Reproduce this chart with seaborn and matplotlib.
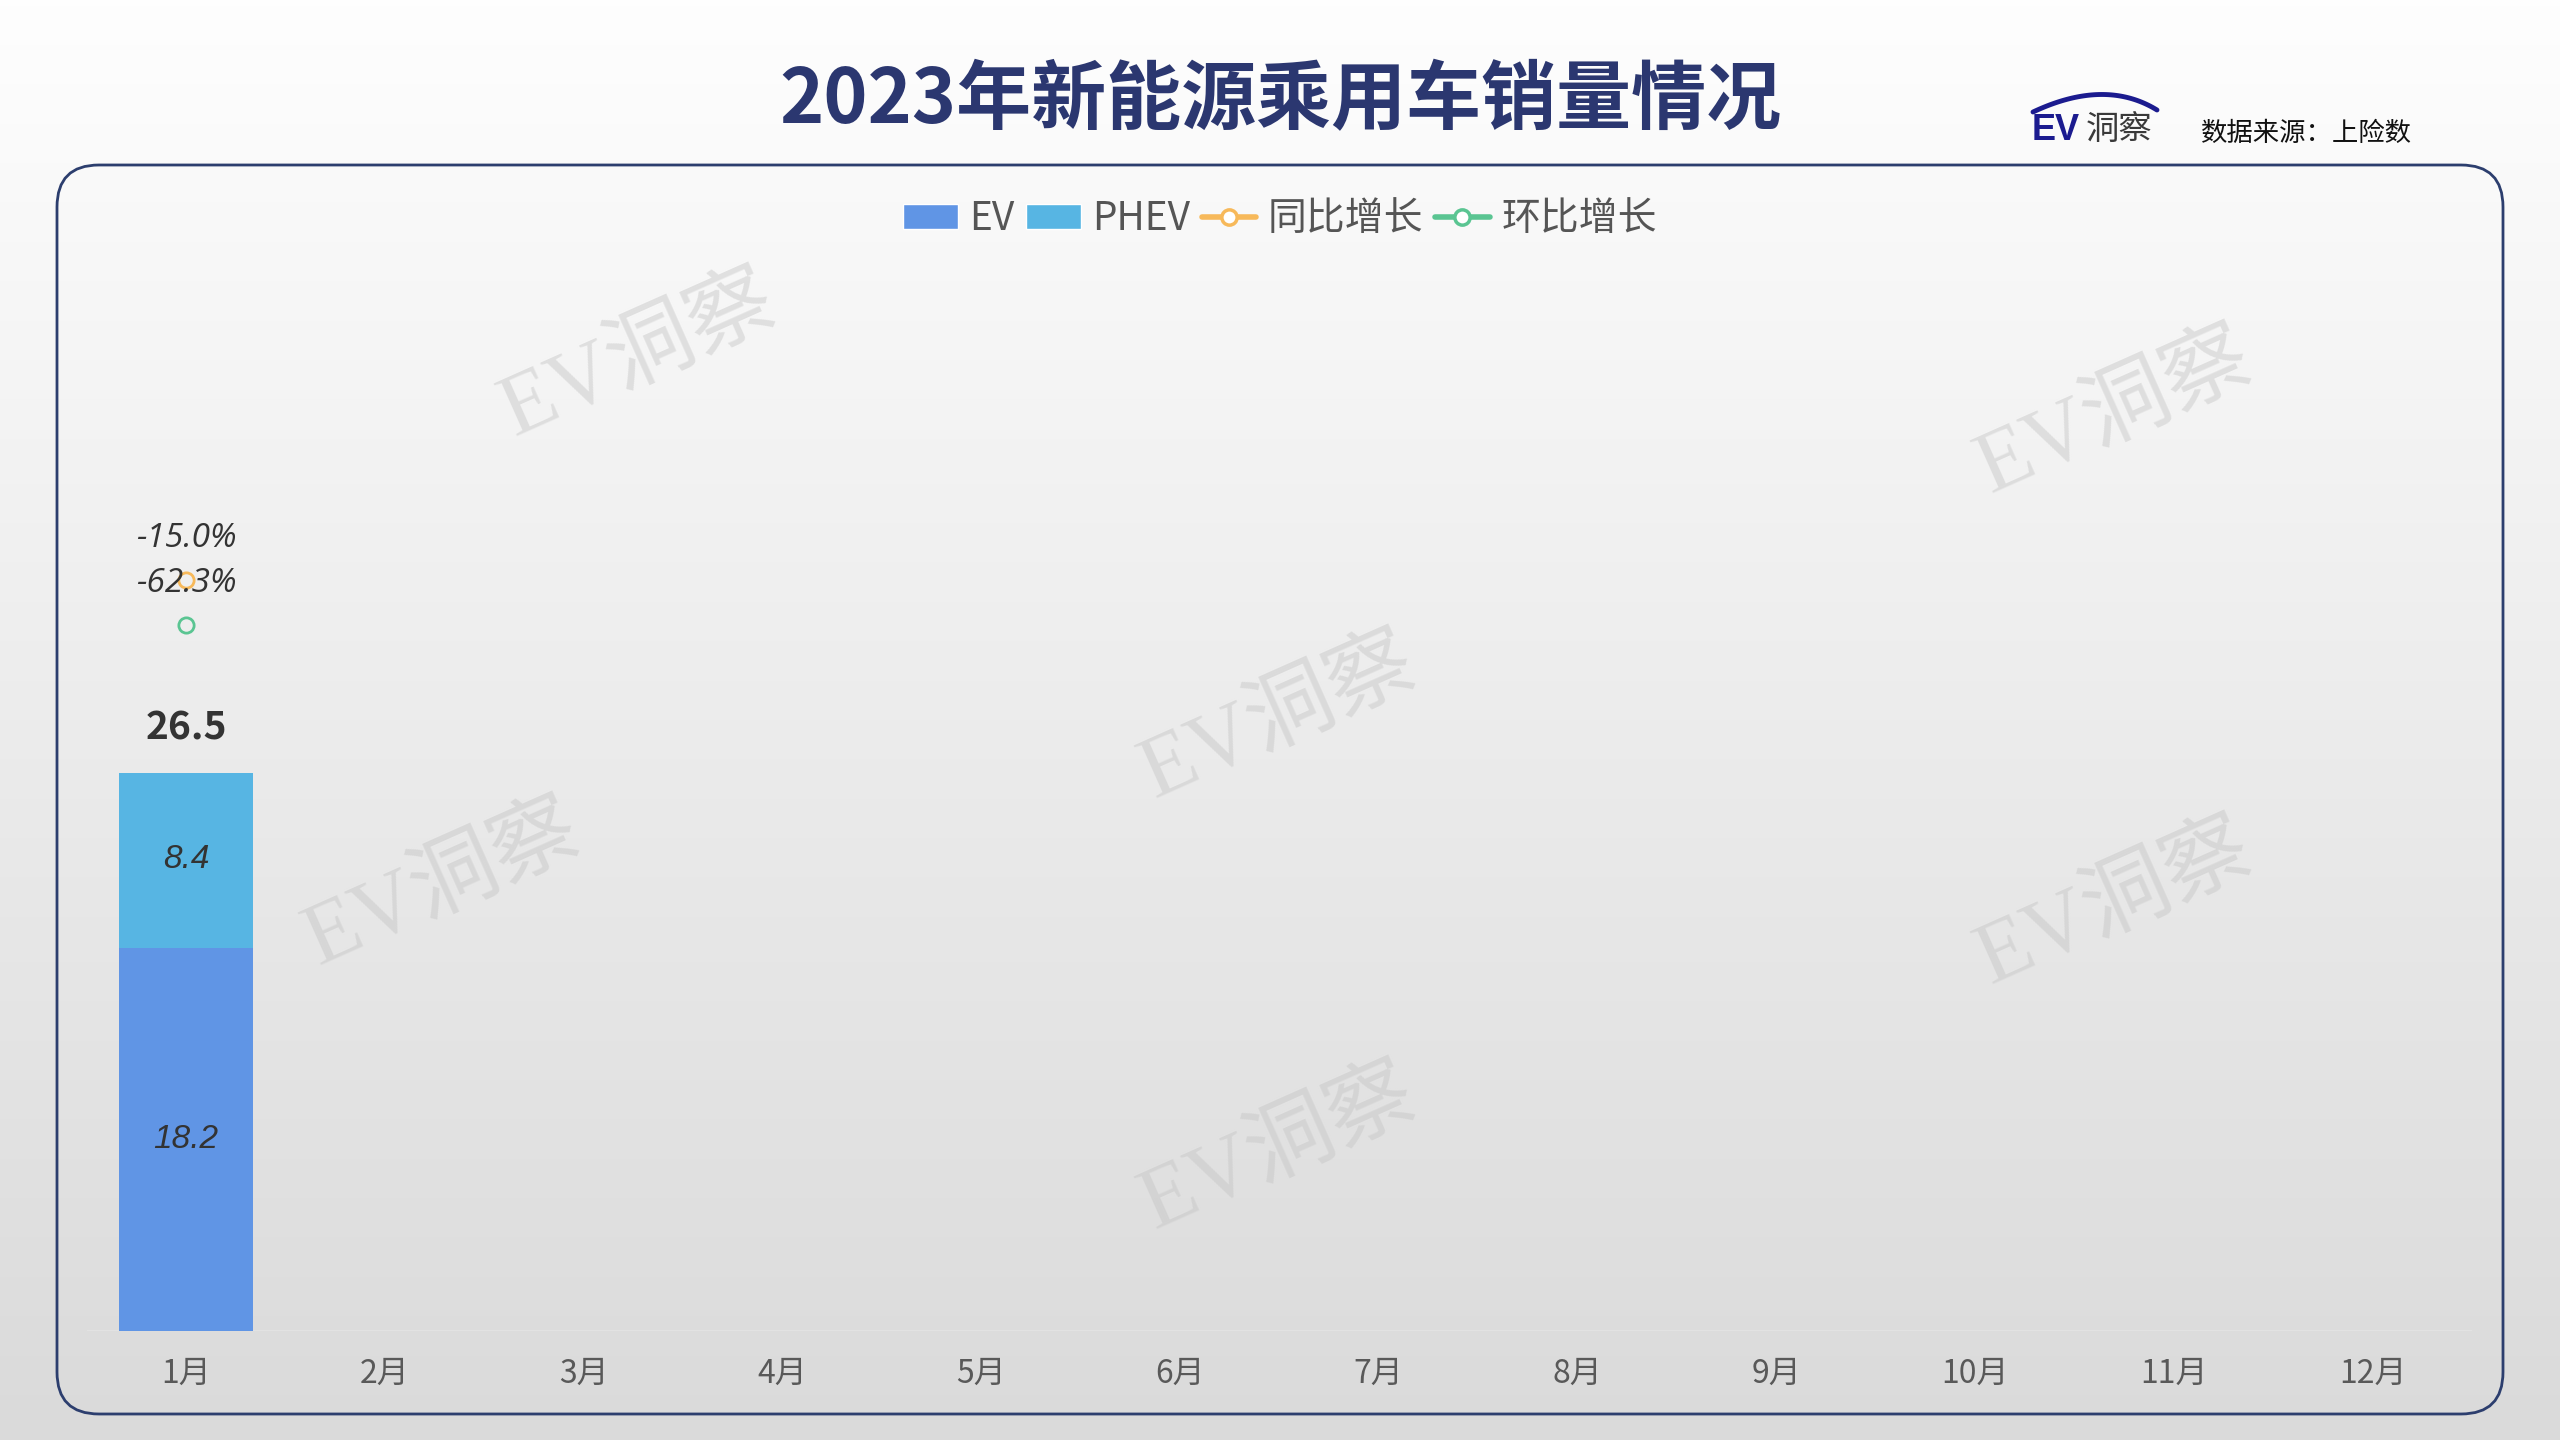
import numpy as np
import pandas as pd
import matplotlib
matplotlib.use('Agg')
import matplotlib.pyplot as plt
from matplotlib.patches import Patch, FancyBboxPatch
from matplotlib.lines import Line2D
import seaborn as sns

sns.set_style('white')
plt.rcParams['font.family'] = ['Noto Sans CJK SC', 'DejaVu Sans']
plt.rcParams['axes.unicode_minus'] = False

nan = np.nan
months = ['1月', '2月', '3月', '4月', '5月', '6月', '7月', '8月', '9月', '10月', '11月', '12月']
ev_sales = [18.2, nan, nan, nan, nan, nan, nan, nan, nan, nan, nan, nan]
phev_sales = [8.4, nan, nan, nan, nan, nan, nan, nan, nan, nan, nan, nan]
total_sales = [26.5, nan, nan, nan, nan, nan, nan, nan, nan, nan, nan, nan]
yoy_growth = [-15.0, nan, nan, nan, nan, nan, nan, nan, nan, nan, nan, nan]   # 同比增长 %
mom_growth = [-62.3, nan, nan, nan, nan, nan, nan, nan, nan, nan, nan, nan]   # 环比增长 %

EV_COLOR = '#6095e5'
PHEV_COLOR = '#57b5e3'
YOY_COLOR = '#f7b95a'
MOM_COLOR = '#5ac592'
LABEL_COLOR = '#333333'

df = pd.DataFrame({'月份': months, 'EV': ev_sales, 'PHEV': phev_sales,
                   '合计': total_sales, '同比': yoy_growth, '环比': mom_growth})

W, H = 2560, 1440
fig = plt.figure(figsize=(W / 100, H / 100), dpi=100)

# background: vertical gradient, panel frame, watermarks
bg = fig.add_axes([0, 0, 1, 1], zorder=0)
bg.set_xlim(0, W)
bg.set_ylim(H, 0)
bg.axis('off')
grad = np.linspace(254, 218, 256)[:, None] / 255.0
bg.imshow(np.dstack([grad, grad, grad]), extent=[0, W, H, 0], aspect='auto')
bg.add_patch(FancyBboxPatch((57, 165), 2446, 1249, boxstyle='round,pad=0,rounding_size=42',
                            fc='none', ec='#2c3e6e', lw=2))
for wx, wy in [(639, 358), (2115, 415), (1279, 720), (443, 887), (2115, 906), (1279, 1151)]:
    bg.text(wx, wy, 'EV洞察', rotation=24, fontsize=63, color='#c4c4c4', alpha=0.45,
            ha='center', va='center', rotation_mode='anchor',
            family=['Liberation Serif', 'Noto Sans CJK SC'])

# logo + source
t = np.linspace(0, 1, 50)
sx = (1 - t) ** 2 * 2033 + 2 * (1 - t) * t * 2105 + t ** 2 * 2157
sy = (1 - t) ** 2 * 112 + 2 * (1 - t) * t * 78 + t ** 2 * 110
bg.plot(sx, sy, color='#1b1b8f', lw=3.5, solid_capstyle='round')
bg.text(2032, 131, 'EV', fontsize=26, weight='bold', color='#1b1b8f', ha='left', va='center',
        family=['Liberation Sans', 'DejaVu Sans'])
bg.text(2086, 129, '洞察', fontsize=24, color='#3a3a3a', ha='left', va='center')
bg.text(2201, 133, '数据来源：上险数', fontsize=19, color='#111111', ha='left', va='center')

fig.text(0.5, 1 - 101 / H, '2023年新能源乘用车销量情况', fontsize=54, weight='bold',
         color='#2b3770', ha='center', va='center')

# main chart
ax = fig.add_axes([86.7 / W, 109 / H, (2472 - 86.7) / W, (1331 - 278) / H], zorder=1)
ax.patch.set_alpha(0)
sns.barplot(data=df, x='月份', y='合计', order=months, color=PHEV_COLOR, saturation=1,
            width=0.67, errorbar=None, linewidth=0, ax=ax)
sns.barplot(data=df, x='月份', y='EV', order=months, color=EV_COLOR, saturation=1,
            width=0.67, errorbar=None, linewidth=0, ax=ax)
ax.set_xlim(-0.5, len(months) - 0.5)
ax.set_ylim(0, 50)
ax.set_xlabel('')
ax.set_ylabel('')
ax.set_yticks([])
ax.tick_params(axis='x', length=0, pad=19, labelsize=23, colors='#595959')
sns.despine(ax=ax, left=True, bottom=True)
ax.axhline(0, color='#e4e4e4', lw=1.2, zorder=0)

for i in range(len(months)):
    if np.isnan(ev_sales[i]):
        continue
    ax.text(i, ev_sales[i] / 2, f'{ev_sales[i]:.1f}', ha='center', va='center', fontsize=24,
            style='italic', color=LABEL_COLOR, family=['Liberation Sans', 'DejaVu Sans'])
    ax.text(i, ev_sales[i] + phev_sales[i] / 2, f'{phev_sales[i]:.1f}', ha='center', va='center',
            fontsize=24, style='italic', color=LABEL_COLOR, family=['Liberation Sans', 'DejaVu Sans'])
    ax.annotate(f'{total_sales[i]:.1f}', (i, total_sales[i]), xytext=(0, 32), textcoords='offset points',
                ha='center', va='center', fontsize=28, weight='bold', color=LABEL_COLOR)

# growth lines on secondary axis
ax2 = ax.twinx()
ax2.patch.set_alpha(0)
xs = np.arange(len(months))
sns.lineplot(x=xs, y=yoy_growth, ax=ax2, color=YOY_COLOR, lw=3, marker='o', markersize=11,
             markerfacecolor='none', markeredgecolor=YOY_COLOR, markeredgewidth=2, legend=False)
sns.lineplot(x=xs, y=mom_growth, ax=ax2, color=MOM_COLOR, lw=3, marker='o', markersize=11,
             markerfacecolor='none', markeredgecolor=MOM_COLOR, markeredgewidth=2, legend=False)
ax2.set_xlim(-0.5, len(months) - 0.5)
ax2.set_ylim(-805, 302.5)
ax2.set_yticks([])
ax2.set_ylabel('')
sns.despine(ax=ax2, left=True, bottom=True, right=True)
for i in range(len(months)):
    for vals in (yoy_growth, mom_growth):
        if not np.isnan(vals[i]):
            ax2.annotate(f'{vals[i]:.1f}%', (i, vals[i]), xytext=(0, 30), textcoords='offset points',
                         ha='center', va='center', fontsize=24, style='italic', color=LABEL_COLOR,
                         family=['Open Sans', 'DejaVu Sans'])

handles = [
    Patch(facecolor=EV_COLOR),
    Patch(facecolor=PHEV_COLOR),
    Line2D([], [], color=YOY_COLOR, lw=4, marker='o', ms=11, mfc='white', mec=YOY_COLOR, mew=2.5),
    Line2D([], [], color=MOM_COLOR, lw=4, marker='o', ms=11, mfc='white', mec=MOM_COLOR, mew=2.5),
]
fig.legend(handles, ['EV', 'PHEV', '同比增长', '环比增长'], loc='center', bbox_to_anchor=(0.5, 1 - 219 / H),
           ncol=4, frameon=False, fontsize=28, handlelength=1.4, handleheight=0.6,
           handletextpad=0.3, columnspacing=0.3, labelcolor='#555555')

fig.savefig('out.png', dpi=100)
